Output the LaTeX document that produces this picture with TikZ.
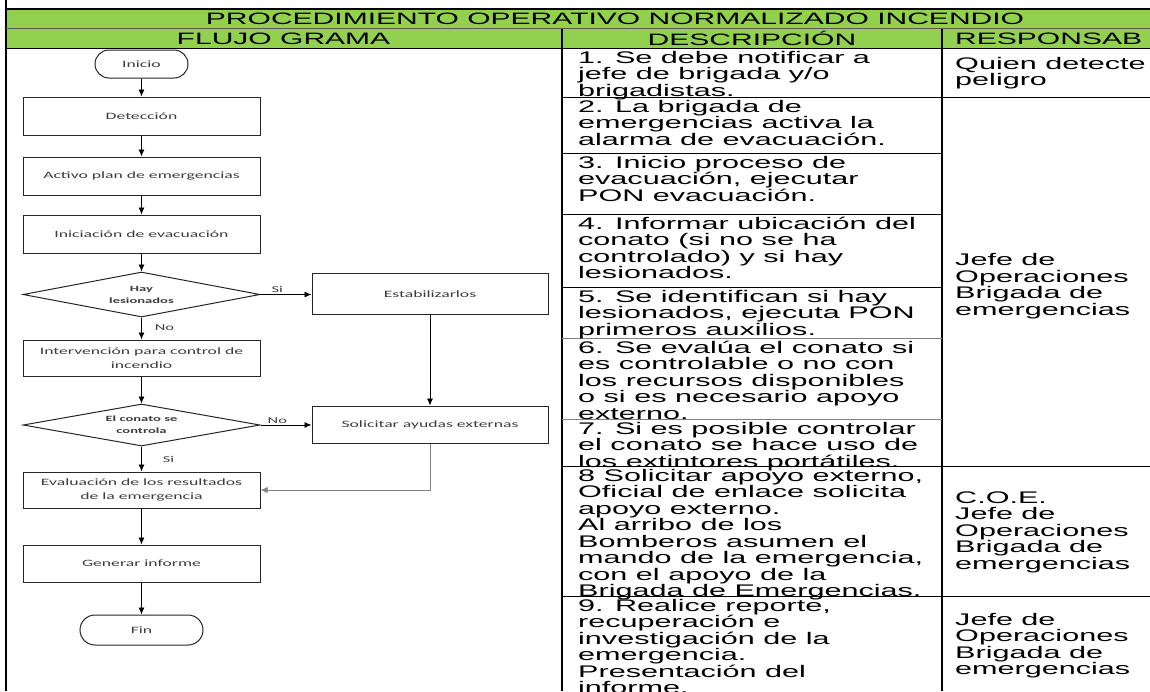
\documentclass[tikz,border=0pt]{standalone}
\usepackage{fontspec}
\usetikzlibrary{shapes.geometric,shapes.misc,arrows.meta}
\newfontfamily\arialx{Liberation Sans}[FakeStretch=1.82]
\newfontfamily\calx{Carlito}[FakeStretch=1.82]
\definecolor{hdrgreen}{RGB}{146,208,80}
\definecolor{flowtext}{RGB}{60,60,60}
\begin{document}
\begin{tikzpicture}[x=1pt,y=-1pt,
  box/.style={draw=black!85,line width=1pt,minimum width=237pt,minimum height=37pt,inner sep=1pt,align=center,font=\calx\fontsize{9.7}{14}\selectfont,text=flowtext},
  term/.style={draw=black!85,line width=1pt,rounded rectangle,inner sep=0pt,font=\calx\fontsize{9.7}{12}\selectfont,text=flowtext},
  dec/.style={draw=black!85,line width=1pt,diamond,aspect=5.3,minimum width=237pt,minimum height=45pt,inner sep=0pt,align=center,font=\calx\bfseries\fontsize{8}{12}\selectfont,text=flowtext},
  arr/.style={line width=0.8pt,-{Latex[length=7pt,width=6pt]}},
  lbl/.style={font=\calx\fontsize{9}{10}\selectfont,text=flowtext,inner sep=1pt},
  desc/.style={anchor=base west,inner sep=0pt,font=\arialx\fontsize{16.8}{16.5}\selectfont},
  resp/.style={anchor=west,inner sep=0pt,align=left,font=\arialx\fontsize{16.8}{16.5}\selectfont},
  hdr/.style={inner sep=0pt,font=\arialx\fontsize{16.5}{18}\selectfont},
  rowline/.style={line width=1pt},
  grayline/.style={line width=1pt,draw=gray},
  colline/.style={line width=1.8pt}
]
\useasboundingbox (0,0) rectangle (1150,691);
\clip (0,0) rectangle (1150,691);
\fill[white] (0,0) rectangle (1150,691);
% header bands
\fill[hdrgreen] (6,10) rectangle (1150,48);
\draw[line width=2pt] (6,0) -- (6,691);
\draw[line width=2pt] (5,9) -- (1150,9);
\draw[line width=0.8pt,draw=gray!70!black] (6,28.5) -- (1150,28.5);
\draw[rowline] (6,48.5) -- (1150,48.5);
\draw[colline] (562,28.5) -- (562,691);
\draw[colline] (942,28.5) -- (942,691);
% row lines
\draw[rowline] (562,97) -- (1150,97);
\draw[rowline] (562,153) -- (942,153);
\draw[rowline] (562,214) -- (942,214);
\draw[rowline] (562,287) -- (942,287);
\draw[grayline] (562,338) -- (942,338);
\draw[grayline] (562,419) -- (942,419);
\draw[rowline] (562,466) -- (1150,466);
\draw[rowline] (562,596) -- (1150,596);
% headers
\node[hdr] (title) at (615,19) {PROCEDIMIENTO OPERATIVO NORMALIZADO INCENDIO};
\node[hdr] (hflujo) at (283.5,38.5) {FLUJO GRAMA};
\node[hdr] (hdesc) at (752,38.5) {DESCRIPCIÓN};
\node[hdr,anchor=west] (hresp) at (955,38.5) {RESPONSAB};
% description
\node[desc] (t1) at (578,63) {\parbox[t]{500pt}{1. Se debe notificar a\\jefe de brigada y/o\\brigadistas.}};
\node[desc] (t2) at (578,112) {\parbox[t]{500pt}{2. La brigada de\\emergencias activa la\\alarma de evacuación.}};
\node[desc] (t3) at (578,168) {\parbox[t]{500pt}{3. Inicio proceso de\\evacuación, ejecutar\\PON evacuación.}};
\node[desc] (t4) at (578,229) {\parbox[t]{500pt}{4. Informar ubicación del\\conato (si no se ha\\controlado) y si hay\\lesionados.}};
\node[desc] (t5) at (578,302) {\parbox[t]{500pt}{5. Se identifican si hay\\lesionados, ejecuta PON\\primeros auxilios.}};
\node[desc] (t6) at (578,353) {\parbox[t]{500pt}{6. Se evalúa el conato si\\es controlable o no con\\los recursos disponibles\\o si es necesario apoyo\\externo.}};
\node[desc] (t7) at (578,434) {\parbox[t]{500pt}{7. Si es posible controlar\\el conato se hace uso de\\los extintores portátiles.}};
\node[desc] (t8) at (578,481) {\parbox[t]{500pt}{8 Solicitar apoyo externo,\\Oficial de enlace solicita\\apoyo externo.\\Al arribo de los\\Bomberos asumen el\\mando de la emergencia,\\con el apoyo de la\\Brigada de Emergencias.}};
\node[desc] (t9) at (578,611) {\parbox[t]{500pt}{9. Realice reporte,\\recuperación e\\investigación de la\\emergencia.\\Presentación del\\informe.}};
% responsables
\node[resp] (r1) at (955,73) {Quien detecte\\peligro};
\node[resp] (r2) at (955,286) {Jefe de\\Operaciones\\Brigada de\\emergencias};
\node[resp] (r3) at (955,532) {C.O.E.\\Jefe de\\Operaciones\\Brigada de\\emergencias};
\node[resp] (r4) at (955,645.5) {Jefe de\\Operaciones\\Brigada de\\emergencias};
% flowchart
\node[term,minimum width=93pt,minimum height=28pt] (ini) at (141.5,64) {Inicio};
\node[box,minimum height=38pt] (det) at (141.5,116) {Detección};
\node[box,minimum height=38pt] (act) at (141.5,176) {Activo plan de emergencias};
\node[box,minimum height=38pt] (iev) at (141.5,234) {Iniciación de evacuación};
\node[dec] (d1) at (141.5,294.5) {Hay\\lesionados};
\node[box,minimum width=236pt,minimum height=41pt] (est) at (430,294) {Estabilizarlos};
\node[box,minimum height=36pt] (int) at (141.5,358) {Intervención para control de\\incendio};
\node[dec,minimum height=42pt] (d2) at (141.5,425) {El conato se\\controla};
\node[box,minimum width=236pt,minimum height=37pt] (sol) at (430,424.5) {Solicitar ayudas externas};
\node[box,minimum height=36pt] (eva) at (141.5,490) {Evaluación de los resultados\\de la emergencia};
\node[box,minimum height=37pt] (gen) at (141.5,563.5) {Generar informe};
\node[term,minimum width=123pt,minimum height=30pt] (fin) at (141.5,630) {Fin};
% connectors
\draw[arr] (ini) -- (det);
\draw[arr] (det) -- (act);
\draw[arr] (act) -- (iev);
\draw[arr] (iev) -- (d1);
\draw[arr] (d1.east) -- node[lbl,pos=0.33,above=1pt] {Si} (d1.east -| est.west);
\draw[arr] (d1.south) -- node[lbl,pos=0.45,right=12pt] {No} (int.north);
\draw[arr] (int) -- (d2);
\draw[arr] (d2.east) -- node[lbl,pos=0.33,above=0pt] {No} (d2.east -| sol.west);
\draw[arr] (est.south) -- (sol.north);
\draw[arr] (d2.south) -- node[lbl,pos=0.5,right=20pt] {Si} (eva.north);
\draw[arr,draw=gray] (sol.south) |- (eva.east);
\draw[arr] (eva) -- (gen);
\draw[arr] (gen) -- (fin);
\end{tikzpicture}
\end{document}
